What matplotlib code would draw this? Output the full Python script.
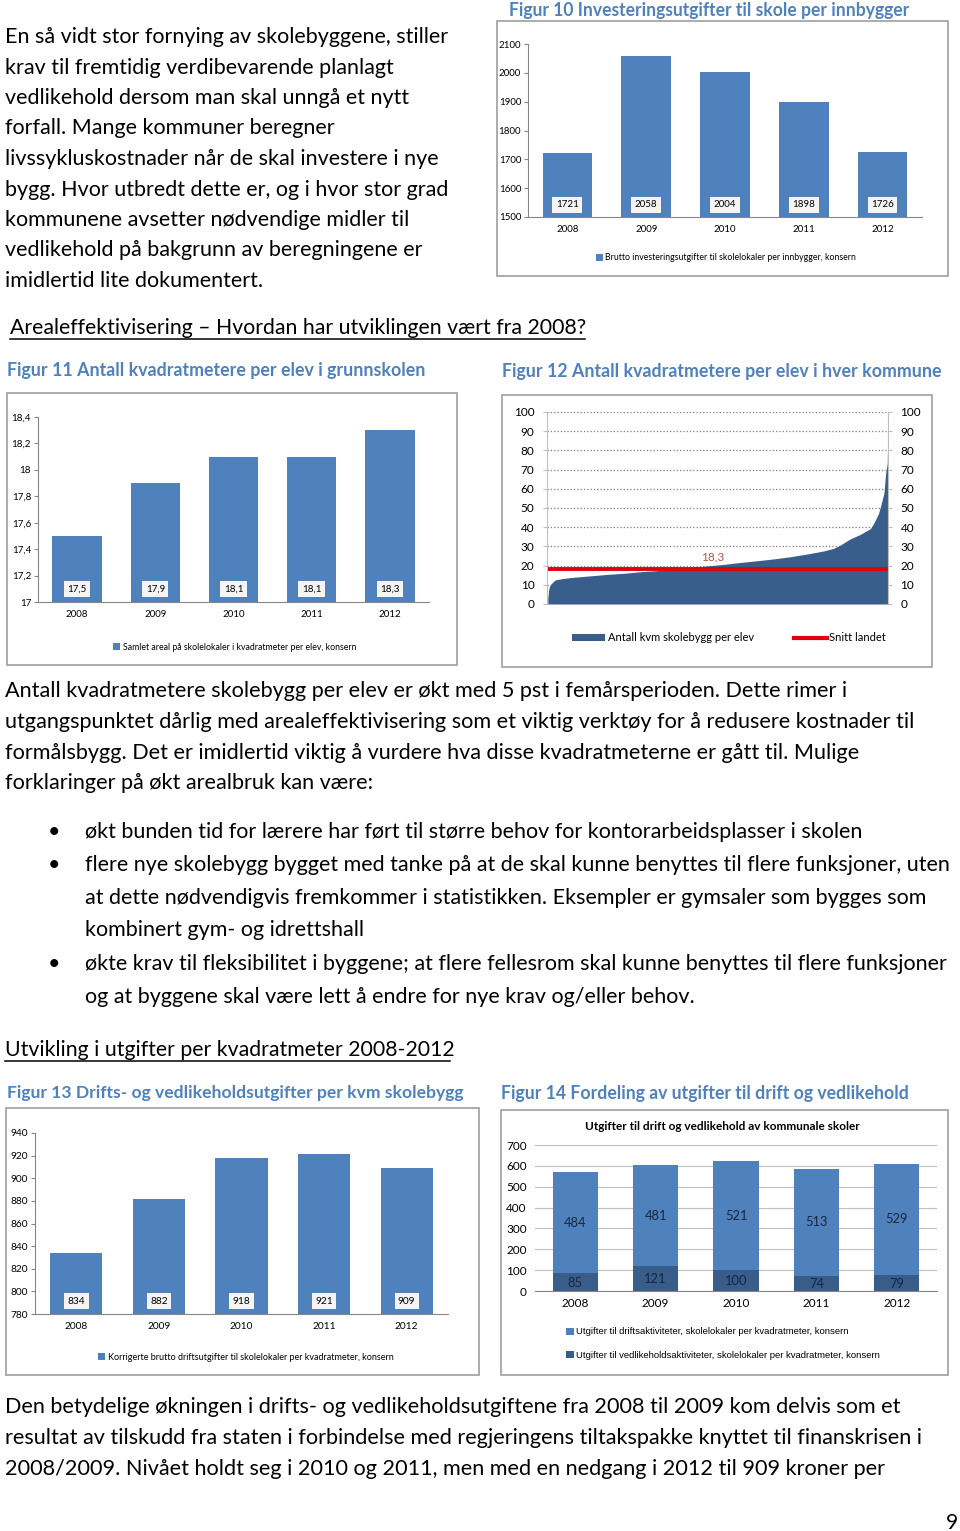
import numpy as np
import matplotlib
matplotlib.use('Agg')
import matplotlib.pyplot as plt
from matplotlib import patches
from matplotlib.lines import Line2D
from matplotlib.transforms import blended_transform_factory
from matplotlib.textpath import TextPath
from matplotlib.font_manager import FontProperties

FONT = 'Lato'
plt.rcParams['font.family'] = [FONT, 'DejaVu Sans']

W, H = 960, 1531
BAR = '#4f81bd'
DARK = '#385d8a'
AREA = '#3a5e8c'
CAPTION = '#4f81bd'
AXIS = '#868686'

# ---- data ----
years = ['2008', '2009', '2010', '2011', '2012']
invest = [1721, 2058, 2004, 1898, 1726]
invest_ticks = [1500, 1600, 1700, 1800, 1900, 2000, 2100]

areal = [17.5, 17.9, 18.1, 18.1, 18.3]
areal_labels = ['17,5', '17,9', '18,1', '18,1', '18,3']
areal_ticks = [17.0, 17.2, 17.4, 17.6, 17.8, 18.0, 18.2, 18.4]
areal_ticklabels = ['17', '17,2', '17,4', '17,6', '17,8', '18', '18,2', '18,4']

# kommuner sortert etter kvm per elev (avlest)
kommune_rank = [1, 2, 3, 5, 10, 20, 33, 50, 75, 100, 117, 135, 160, 179, 200,
                221, 242, 263, 285, 305, 326, 347, 360, 368, 381, 393, 406,
                410, 416, 420, 423, 425, 427, 428]
kommune_kvm = [3, 7, 9, 10.5, 12.5, 13.3, 13.9, 14.5, 15.4, 16.1, 16.8, 17.3,
               18.1, 18.9, 19.8, 20.6, 21.6, 22.5, 23.5, 24.6, 26, 27.6, 29,
               30.7, 34, 36.2, 39.3, 42, 47, 53, 58, 68, 73, 92]
snitt = 18.3
kvm_ticks = [0, 10, 20, 30, 40, 50, 60, 70, 80, 90, 100]

drift_total = [834, 882, 918, 921, 909]
drift_ticks = [780, 800, 820, 840, 860, 880, 900, 920, 940]

drift = [484, 481, 521, 513, 529]
vedlikehold = [85, 121, 100, 74, 79]
fordeling_ticks = [0, 100, 200, 300, 400, 500, 600, 700]

top_text = [
    'En så vidt stor fornying av skolebyggene, stiller',
    'krav til fremtidig verdibevarende planlagt',
    'vedlikehold dersom man skal unngå et nytt',
    'forfall. Mange kommuner beregner',
    'livssykluskostnader når de skal investere i nye',
    'bygg. Hvor utbredt dette er, og i hvor stor grad',
    'kommunene avsetter nødvendige midler til',
    'vedlikehold på bakgrunn av beregningene er',
    'imidlertid lite dokumentert.',
]
mid_text = [
    'Antall kvadratmetere skolebygg per elev er økt med 5 pst i femårsperioden. Dette rimer i',
    'utgangspunktet dårlig med arealeffektivisering som et viktig verktøy for å redusere kostnader til',
    'formålsbygg. Det er imidlertid viktig å vurdere hva disse kvadratmeterne er gått til. Mulige',
    'forklaringer på økt arealbruk kan være:',
]
bullet_text = [
    ('•', 'økt bunden tid for lærere har ført til større behov for kontorarbeidsplasser i skolen'),
    ('•', 'flere nye skolebygg bygget med tanke på at de skal kunne benyttes til flere funksjoner, uten'),
    ('', 'at dette nødvendigvis fremkommer i statistikken. Eksempler er gymsaler som bygges som'),
    ('', 'kombinert gym- og idrettshall'),
    ('•', 'økte krav til fleksibilitet i byggene; at flere fellesrom skal kunne benyttes til flere funksjoner'),
    ('', 'og at byggene skal være lett å endre for nye krav og/eller behov.'),
]
bottom_text = [
    'Den betydelige økningen i drifts- og vedlikeholdsutgiftene fra 2008 til 2009 kom delvis som et',
    'resultat av tilskudd fra staten i forbindelse med regjeringens tiltakspakke knyttet til finanskrisen i',
    '2008/2009. Nivået holdt seg i 2010 og 2011, men med en nedgang i 2012 til 909 kroner per',
]

fig = plt.figure(figsize=(W / 100, H / 100), dpi=100)


def fit(s, width_px, weight='normal'):
    w = TextPath((0, 0), s, size=10,
                 prop=FontProperties(family=FONT, weight=weight)).get_extents().width
    return 10 * width_px * 0.72 / w


def put(x, y, s, size, **kw):
    return fig.text(x / W, 1 - y / H, s, fontsize=size, va='baseline', **kw)


def px_axes(x0, y0, x1, y1):
    return fig.add_axes([x0 / W, 1 - y1 / H, (x1 - x0) / W, (y1 - y0) / H])


def frame(x0, y0, x1, y1):
    fig.patches.append(patches.Rectangle((x0 / W, 1 - y1 / H), (x1 - x0) / W,
                                         (y1 - y0) / H, transform=fig.transFigure,
                                         fill=False, ec='#a6a6a6', lw=1.3))


def underline(x0, x1, y):
    fig.add_artist(Line2D([x0 / W, x1 / W], [1 - y / H, 1 - y / H],
                          color='black', lw=1.1))


# ---- page text ----
s = fit(top_text[0], 439)
for i, line in enumerate(top_text):
    put(5, 43 + i * 30.5, line, s)

s = fit(mid_text[1], 903)
for i, line in enumerate(mid_text):
    put(5, 697 + i * 30.8, line, s)

s = fit(bullet_text[1][1], 863)
for i, (b, line) in enumerate(bullet_text):
    y = [838, 871, 904, 936, 970, 1003][i]
    if b:
        put(48, y, b, s)
    put(85, y, line, s)

s = fit(bottom_text[1], 912)
for i, line in enumerate(bottom_text):
    put(5, 1413 + i * 31, line, s)

put(958, 1529, '9', 15, ha='right')

h1 = 'Arealeffektivisering – Hvordan har utviklingen vært fra 2008?'
put(10, 334, h1, fit(h1, 575))
underline(10, 585, 339)
h2 = 'Utvikling i utgifter per kvadratmeter 2008-2012'
put(5, 1056, h2, fit(h2, 445))
underline(5, 450, 1061)

captions = [
    (509, 16, 908, 'Figur 10 Investeringsutgifter til skole per innbygger'),
    (7, 376, 420, 'Figur 11 Antall kvadratmetere per elev i grunnskolen'),
    (502, 377, 938, 'Figur 12 Antall kvadratmetere per elev i hver kommune'),
    (7, 1098, 460, 'Figur 13 Drifts- og vedlikeholdsutgifter per kvm skolebygg'),
    (501, 1099, 906, 'Figur 14 Fordeling av utgifter til drift og vedlikehold'),
]
for x0, y, x1, txt in captions:
    put(x0, y, txt, fit(txt, x1 - x0, 'bold'), weight='bold', color=CAPTION)

# ---- chart frames ----
frame(497, 21, 948, 276)
frame(7, 393, 457, 665)
frame(502, 395, 932, 667)
frame(6, 1108, 479, 1375)
frame(501, 1110, 948, 1375)


def bar_chart(box, values, labels, ticks, ticklabels, legend_text, legend_xy,
              width=0.63, tsize=7, lsize=6.3):
    ax = px_axes(*box)
    bars = ax.bar(range(len(values)), values, width=width, color=BAR)
    ax.set_xlim(-0.5, len(values) - 0.5)
    ax.set_ylim(ticks[0], ticks[-1])
    ax.set_yticks(ticks, ticklabels)
    ax.set_xticks(range(len(values)), years)
    for side in ['top', 'right']:
        ax.spines[side].set_visible(False)
    for side in ['left', 'bottom']:
        ax.spines[side].set_color(AXIS)
    ax.tick_params(axis='x', length=0, labelsize=tsize, pad=6)
    ax.tick_params(axis='y', length=3, color=AXIS, labelsize=tsize, pad=2)
    trans = blended_transform_factory(ax.transData, ax.transAxes)
    for i, lab in enumerate(labels):
        ax.text(i, 0.07, lab, transform=trans, ha='center', va='center',
                fontsize=tsize, bbox=dict(fc='#f4f4f4', ec='none', pad=2.5))
    fig.legend([bars], [legend_text], loc='center',
               bbox_to_anchor=(legend_xy[0] / W, 1 - legend_xy[1] / H),
               frameon=False, fontsize=lsize, handlelength=0.8, handleheight=0.8,
               handletextpad=0.3, borderpad=0)
    return ax


bar_chart((528, 44, 922, 217), invest, [str(v) for v in invest], invest_ticks,
          [str(t) for t in invest_ticks],
          'Brutto investeringsutgifter til skolelokaler per innbygger, konsern',
          (726, 258))

bar_chart((38, 417, 429, 602), areal, areal_labels, areal_ticks, areal_ticklabels,
          'Samlet areal på skolelokaler i kvadratmeter per elev, konsern',
          (235, 647))

bar_chart((35, 1133, 448, 1314), drift_total, [str(v) for v in drift_total],
          drift_ticks, [str(t) for t in drift_ticks],
          'Korrigerte brutto driftsutgifter til skolelokaler per kvadratmeter, konsern',
          (246, 1357), tsize=7.3, lsize=6.5)

# ---- figur 12 ----
ax = px_axes(547, 412, 888, 604)
ax.fill_between(kommune_rank, kommune_kvm, color=AREA, lw=0)
ax.axhline(snitt, color='#e0000c', lw=2.8)
ax.text(208, 24.5, '18,3', color='#c0504d', fontsize=8.5, ha='center', va='center')
ax.set_xlim(0, 428)
ax.set_ylim(0, 100)
ax.set_yticks(kvm_ticks)
ax.set_xticks([])
ax.yaxis.grid(True, ls=':', color='#7f7f7f', lw=0.9)
ax.set_axisbelow(True)
for side in ['top', 'bottom']:
    ax.spines[side].set_visible(False)
for side in ['left', 'right']:
    ax.spines[side].set_color('#bfbfbf')
ax.tick_params(axis='y', left=True, right=True, labelleft=True, labelright=True,
               labelsize=8.5, color='#bfbfbf', length=3, pad=6)
h_area = patches.Patch(fc=AREA)
h_line = Line2D([0], [0], color='#e0000c', lw=3)
fig.legend([h_area, h_line], ['Antall kvm skolebygg per elev', 'Snitt landet'],
           ncol=2, loc='center', bbox_to_anchor=(729 / W, 1 - 638 / H),
           frameon=False, fontsize=8, handlelength=3, handleheight=0.6,
           handletextpad=0.2, columnspacing=3.6, borderpad=0)

# ---- figur 14 ----
ax = px_axes(535, 1145, 937, 1291)
x = np.arange(len(years))
b1 = ax.bar(x, vedlikehold, 0.56, color=DARK)
b2 = ax.bar(x, drift, 0.56, bottom=vedlikehold, color=BAR)
for i in range(len(years)):
    ax.text(i, vedlikehold[i] / 2 - 4, str(vedlikehold[i]), ha='center', va='center',
            fontsize=9.3, color='#17263f')
    ax.text(i, vedlikehold[i] + drift[i] / 2, str(drift[i]), ha='center', va='center',
            fontsize=9.3, color='#17263f')
ax.set_xlim(-0.5, 4.5)
ax.set_ylim(0, 700)
ax.set_yticks(fordeling_ticks)
ax.set_xticks(x, years)
ax.yaxis.grid(True, color='#bfbfbf', lw=0.8)
ax.set_axisbelow(True)
for side in ['top', 'right', 'left']:
    ax.spines[side].set_visible(False)
ax.spines['bottom'].set_color(AXIS)
ax.tick_params(axis='y', length=0, labelsize=8.5, pad=6)
ax.tick_params(axis='x', length=0, labelsize=8.5, pad=5)
fig.text(722 / W, 1 - 1127 / H, 'Utgifter til drift og vedlikehold av kommunale skoler',
         ha='center', va='center', fontsize=8.5, weight='bold')
leg_font = {'family': 'Liberation Sans', 'size': 6.8}
for bar, lab, y in [(b2, 'Utgifter til driftsaktiviteter, skolelokaler per kvadratmeter, konsern', 1332),
                    (b1, 'Utgifter til vedlikeholdsaktiviteter, skolelokaler per kvadratmeter, konsern', 1355)]:
    fig.legend([bar], [lab], loc='center left', bbox_to_anchor=(566 / W, 1 - y / H),
               frameon=False, prop=leg_font, handlelength=0.8, handleheight=0.8,
               handletextpad=0.3, borderpad=0, borderaxespad=0)

fig.savefig('out.png', dpi=100)
